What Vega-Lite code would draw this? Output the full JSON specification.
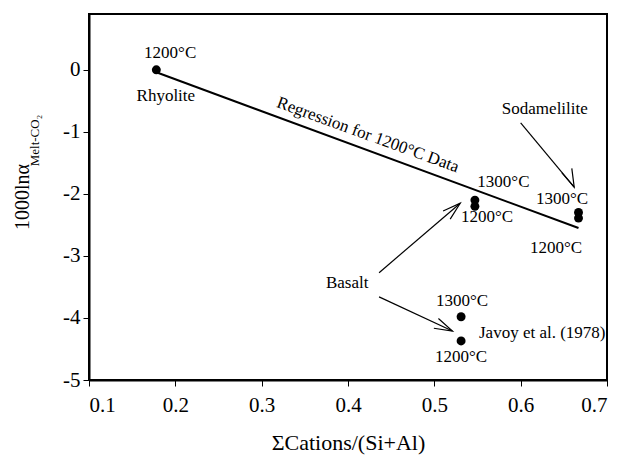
{
  "$schema": "https://vega.github.io/schema/vega-lite/v6.json",
  "width": 518,
  "height": 366,
  "autosize": "none",
  "padding": {"left": 89, "top": 14, "right": 14, "bottom": 77},
  "background": "white",
  "config": {
    "view": {"stroke": "black", "strokeWidth": 2},
    "axis": {
      "grid": false,
      "labelFont": "Liberation Serif, Times New Roman, serif",
      "labelFontSize": 21,
      "labelColor": "black",
      "tickColor": "black",
      "tickSize": 6,
      "tickWidth": 1,
      "domainColor": "black",
      "domainWidth": 2,
      "titleFont": "Liberation Serif, Times New Roman, serif",
      "titleFontWeight": "normal",
      "titleColor": "black"
    },
    "text": {"font": "Liberation Serif, Times New Roman, serif", "fontSize": 17, "color": "black"}
  },
  "datasets": {
    "points": [
      {"x": 0.178, "y": 0.0, "series": "Rhyolite", "temp": "1200"},
      {"x": 0.547, "y": -2.1, "series": "Basalt", "temp": "1300"},
      {"x": 0.547, "y": -2.2, "series": "Basalt", "temp": "1200"},
      {"x": 0.667, "y": -2.3, "series": "Sodamelilite", "temp": "1300"},
      {"x": 0.667, "y": -2.39, "series": "Sodamelilite", "temp": "1200"},
      {"x": 0.531, "y": -3.98, "series": "Javoy et al. (1978)", "temp": "1300"},
      {"x": 0.531, "y": -4.37, "series": "Javoy et al. (1978)", "temp": "1200"}
    ],
    "regression": [
      {"x": 0.178, "y": -0.04},
      {"x": 0.667, "y": -2.55}
    ],
    "labels": [
      {"x": 0.194, "y": 0.27, "text": "1200°C", "angle": 0},
      {"x": 0.189, "y": -0.42, "text": "Rhyolite", "angle": 0},
      {"x": 0.423, "y": -1.05, "text": "Regression for 1200°C Data", "angle": 20},
      {"x": 0.58, "y": -1.81, "text": "1300°C", "angle": 0},
      {"x": 0.561, "y": -2.37, "text": "1200°C", "angle": 0},
      {"x": 0.648, "y": -2.08, "text": "1300°C", "angle": 0},
      {"x": 0.641, "y": -2.87, "text": "1200°C", "angle": 0},
      {"x": 0.628, "y": -0.63, "text": "Sodamelilite", "angle": 0},
      {"x": 0.399, "y": -3.44, "text": "Basalt", "angle": 0},
      {"x": 0.532, "y": -3.73, "text": "1300°C", "angle": 0},
      {"x": 0.625, "y": -4.24, "text": "Javoy et al. (1978)", "angle": 0},
      {"x": 0.531, "y": -4.63, "text": "1200°C", "angle": 0}
    ],
    "arrows": [
      {"x": 0.6, "y": -0.855, "x2": 0.662, "y2": -1.89, "angle": 156},
      {"x": 0.436, "y": -3.27, "x2": 0.53, "y2": -2.15, "angle": 49},
      {"x": 0.436, "y": -3.66, "x2": 0.521, "y2": -4.21, "angle": 115}
    ],
    "ytitle": [
      {"x": 0.023, "y": -2.05, "text": "1000lnα", "size": 20},
      {"x": 0.037, "y": -1.14, "text": "Melt-CO₂", "size": 13}
    ]
  },
  "layer": [
    {
      "data": {"name": "regression"},
      "mark": {"type": "line", "color": "black", "strokeWidth": 2},
      "encoding": {
        "x": {
          "field": "x", "type": "quantitative",
          "scale": {"domain": [0.1, 0.7], "nice": false, "zero": false},
          "axis": {
            "values": [0.1, 0.2, 0.3, 0.4, 0.5, 0.6, 0.7],
            "format": ".1f",
            "title": "ΣCations/(Si+Al)",
            "titleFontSize": 22,
            "labelPadding": 8,
            "titlePadding": 17
          }
        },
        "y": {
          "field": "y", "type": "quantitative",
          "scale": {"domain": [-5, 0.9], "nice": false, "zero": false},
          "axis": {
            "values": [-5, -4, -3, -2, -1, 0],
            "labelExpr": "'' + datum.value",
            "title": null,
            "labelPadding": 3
          }
        }
      }
    },
    {
      "data": {"name": "arrows"},
      "mark": {"type": "rule", "color": "black", "strokeWidth": 1.2},
      "encoding": {
        "x": {"field": "x", "type": "quantitative"},
        "y": {"field": "y", "type": "quantitative"},
        "x2": {"field": "x2"},
        "y2": {"field": "y2"}
      }
    },
    {
      "data": {"name": "arrows"},
      "mark": {
        "type": "point",
        "shape": "M-0.3,1L0,0L0.3,1",
        "filled": false,
        "color": "black",
        "opacity": 1,
        "strokeWidth": 1.2,
        "size": 1296
      },
      "encoding": {
        "x": {"field": "x2", "type": "quantitative"},
        "y": {"field": "y2", "type": "quantitative"},
        "angle": {"field": "angle", "type": "quantitative", "scale": null}
      }
    },
    {
      "data": {"name": "points"},
      "mark": {"type": "point", "filled": true, "color": "black", "opacity": 1, "size": 80},
      "encoding": {
        "x": {"field": "x", "type": "quantitative"},
        "y": {"field": "y", "type": "quantitative"}
      }
    },
    {
      "data": {"name": "labels"},
      "mark": {"type": "text", "baseline": "middle", "align": "center"},
      "encoding": {
        "x": {"field": "x", "type": "quantitative"},
        "y": {"field": "y", "type": "quantitative"},
        "text": {"field": "text"},
        "angle": {"field": "angle", "type": "quantitative", "scale": null}
      }
    },
    {
      "data": {"name": "ytitle"},
      "mark": {"type": "text", "baseline": "middle", "align": "center", "angle": 270},
      "encoding": {
        "x": {"field": "x", "type": "quantitative"},
        "y": {"field": "y", "type": "quantitative"},
        "text": {"field": "text"},
        "size": {"field": "size", "type": "quantitative", "scale": null}
      }
    }
  ]
}
